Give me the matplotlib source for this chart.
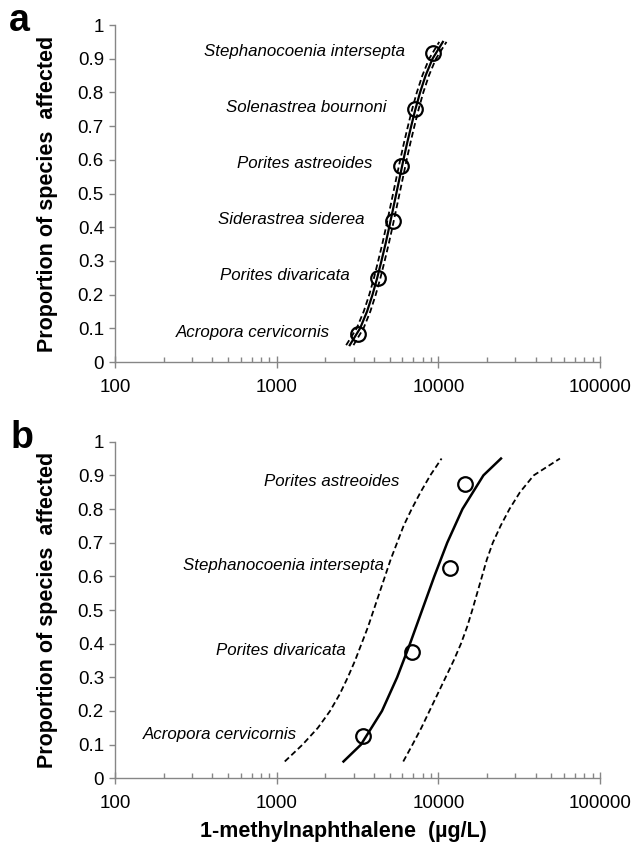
import matplotlib
matplotlib.use("Agg")
import matplotlib.pyplot as plt
from matplotlib.ticker import FixedLocator, LogLocator, NullFormatter

plt.rcParams['font.family'] = ['Liberation Sans', 'DejaVu Sans']

# ---- panel a: six species ----
a_species = ["Acropora cervicornis", "Porites divaricata", "Siderastrea siderea",
             "Porites astreoides", "Solenastrea bournoni", "Stephanocoenia intersepta"]
a_prop = [0.083, 0.25, 0.417, 0.583, 0.75, 0.917]
a_conc = [3170, 4215, 5220, 5850, 7170, 9300]

a_curve_p = [0.05, 0.10, 0.15, 0.20, 0.25, 0.30, 0.35, 0.40, 0.45, 0.50,
             0.55, 0.60, 0.65, 0.70, 0.75, 0.80, 0.85, 0.90, 0.95]
a_fit = [2831, 3281, 3622, 3917, 4188, 4446, 4710, 4966, 5224, 5495,
         5781, 6081, 6412, 6792, 7211, 7709, 8337, 9204, 10666]
a_lower = [2690, 3125, 3455, 3740, 4000, 4245, 4500, 4745, 4990, 5250,
           5520, 5810, 6125, 6485, 6885, 7360, 7960, 8770, 10130]
a_upper = [2985, 3445, 3795, 4100, 4385, 4655, 4930, 5200, 5470, 5755,
           6055, 6365, 6715, 7110, 7550, 8070, 8740, 9660, 11230]

# ---- panel b: four species ----
b_species = ["Acropora cervicornis", "Porites divaricata",
             "Stephanocoenia intersepta", "Porites astreoides"]
b_prop = [0.125, 0.375, 0.625, 0.875]
b_conc = [3440, 6840, 11800, 14600]

b_fit_p = [0.05, 0.10, 0.20, 0.30, 0.40, 0.50, 0.60, 0.70, 0.80, 0.90, 0.95]
b_fit = [2590, 3320, 4480, 5560, 6680, 7940, 9440, 11350, 14100, 19000, 24400]

b_ci_p = [0.05, 0.10, 0.15, 0.20, 0.25, 0.30, 0.35, 0.40, 0.45, 0.50,
          0.55, 0.60, 0.65, 0.70, 0.75, 0.80, 0.85, 0.90, 0.95]
b_lower = [1122, 1445, 1799, 2138, 2455, 2754, 3055, 3350, 3673, 3981,
           4315, 4677, 5070, 5559, 6095, 6839, 7762, 8913, 10471]
b_upper = [6067, 6918, 7852, 8810, 9886, 11092, 12445, 13804, 15066, 16218,
           17378, 18621, 19953, 21727, 24266, 27542, 31989, 38905, 56494]

y_ticks = [0, 0.1, 0.2, 0.3, 0.4, 0.5, 0.6, 0.7, 0.8, 0.9, 1]
y_tick_labels = ["0", "0.1", "0.2", "0.3", "0.4", "0.5", "0.6", "0.7", "0.8", "0.9", "1"]
x_ticks = [100, 1000, 10000, 100000]
x_tick_labels = ["100", "1000", "10000", "100000"]

axis_grey = "#868686"
dash = (0, (3.2, 1.8))


def style_axes(ax):
    ax.set_xscale("log")
    ax.set_xlim(100, 100000)
    ax.set_ylim(0, 1)
    for side in ["top", "right"]:
        ax.spines[side].set_visible(False)
    for side in ["left", "bottom"]:
        ax.spines[side].set_color(axis_grey)
        ax.spines[side].set_linewidth(1.0)
    ax.yaxis.set_major_locator(FixedLocator(y_ticks))
    ax.set_yticklabels(y_tick_labels)
    ax.xaxis.set_major_locator(FixedLocator(x_ticks))
    ax.set_xticklabels(x_tick_labels)
    ax.xaxis.set_minor_locator(LogLocator(base=10, subs=range(2, 10)))
    ax.xaxis.set_minor_formatter(NullFormatter())
    ax.tick_params(axis="y", direction="out", length=4, width=1, color=axis_grey,
                   labelsize=13.5, pad=4)
    ax.tick_params(axis="x", which="major", direction="inout", length=8, width=1,
                   color=axis_grey, labelsize=13.5, pad=8)
    ax.tick_params(axis="x", which="minor", direction="in", length=3.5, width=1,
                   color=axis_grey)
    ax.set_ylabel("Proportion of species  affected", fontsize=15.5, fontweight="bold")
    ax.yaxis.set_label_coords(-0.118, 0.5)


fig = plt.figure(figsize=(6.34, 8.46), dpi=100)
ax_a = fig.add_axes([0.1814, 0.5721, 0.765, 0.3983])
ax_b = fig.add_axes([0.1814, 0.0800, 0.765, 0.3979])

# panel a
ax_a.plot(a_lower, a_curve_p, color="black", lw=1.3, ls=dash)
ax_a.plot(a_upper, a_curve_p, color="black", lw=1.3, ls=dash)
ax_a.plot(a_fit, a_curve_p, color="black", lw=1.6)
ax_a.plot(a_conc, a_prop, "o", ms=10.5, mfc="none", mec="black", mew=1.6)
for name, x, y in zip(a_species, a_conc, a_prop):
    ax_a.annotate(name, (x, y), xytext=(-28, 2), textcoords="offset pixels",
                  ha="right", va="center", fontsize=12.2, style="italic")
style_axes(ax_a)

# panel b
ax_b.plot(b_lower, b_ci_p, color="black", lw=1.3, ls=dash)
ax_b.plot(b_upper, b_ci_p, color="black", lw=1.3, ls=dash)
ax_b.plot(b_fit, b_fit_p, color="black", lw=1.8)
ax_b.plot(b_conc, b_prop, "o", ms=10.5, mfc="none", mec="black", mew=1.6)
for name, x, y in zip(b_species, b_conc, b_prop):
    ax_b.annotate(name, (x, y), xytext=(-66, 2), textcoords="offset pixels",
                  ha="right", va="center", fontsize=12.2, style="italic")
style_axes(ax_b)
ax_b.set_xlabel("1-methylnaphthalene  (\u00b5g/L)", fontsize=15.5, fontweight="bold")
ax_b.xaxis.set_label_coords(0.47, -0.128)

fig.text(0.014, 0.9628, "a", fontsize=27, fontweight="bold", va="baseline")
fig.text(0.017, 0.4704, "b", fontsize=27, fontweight="bold", va="baseline")

fig.savefig("out.png", dpi=100)
